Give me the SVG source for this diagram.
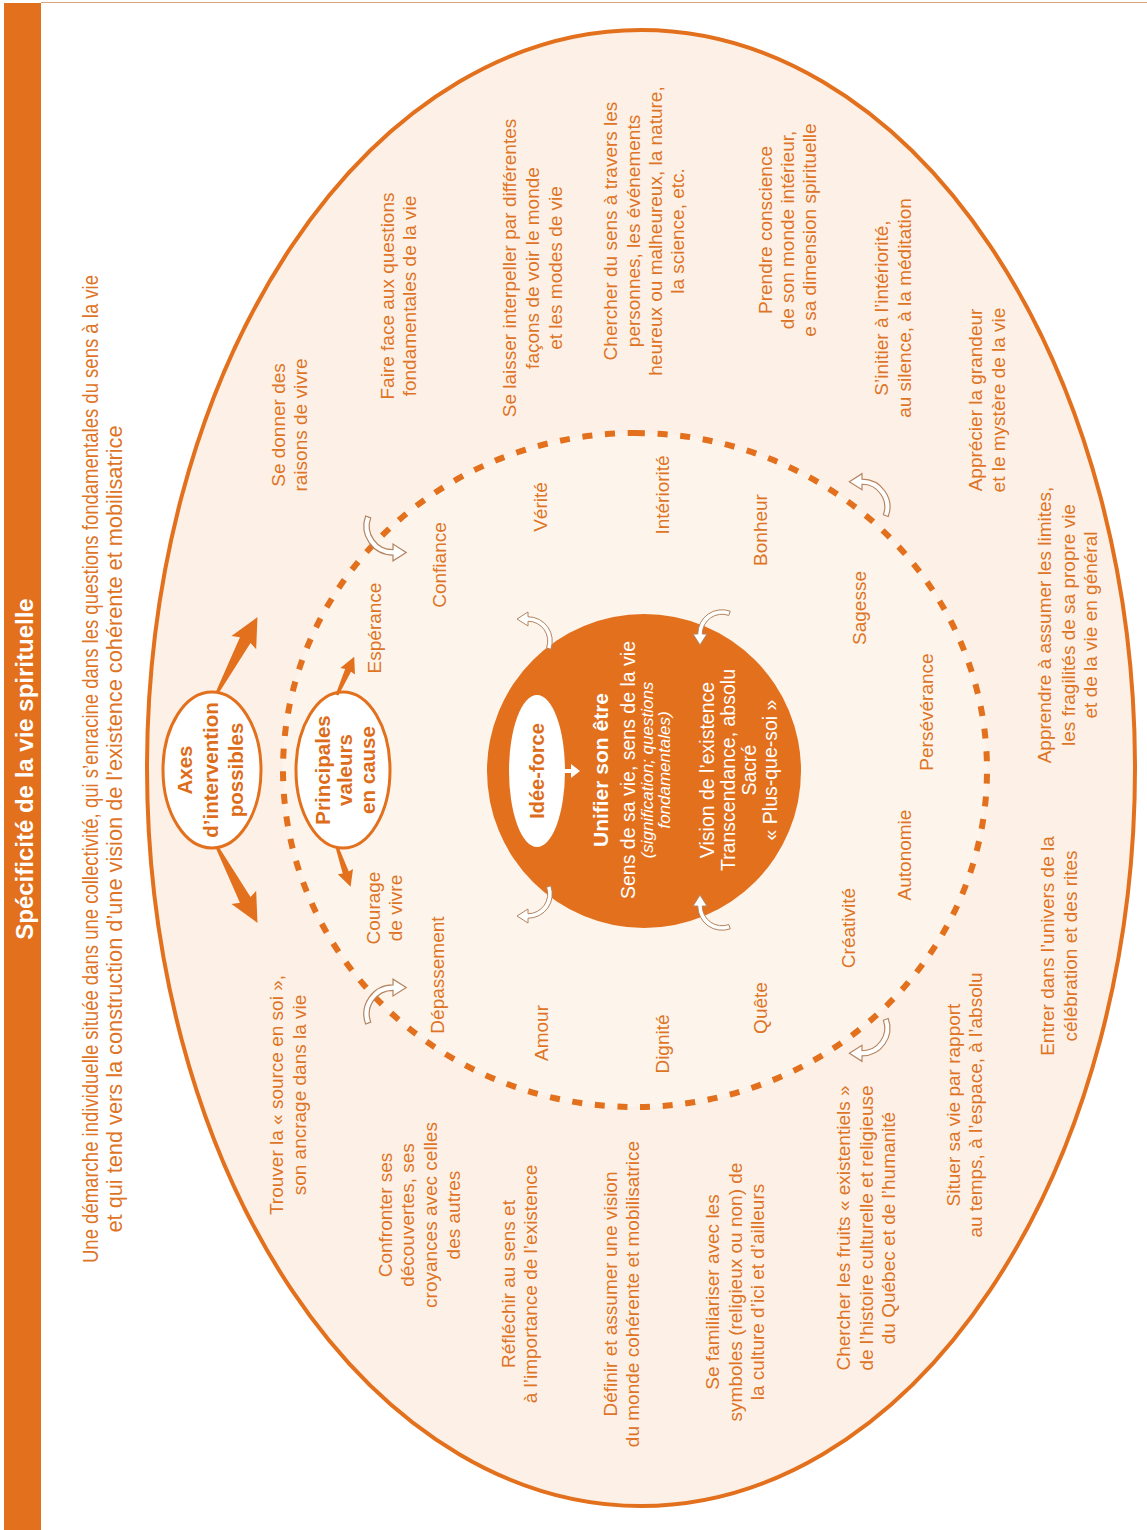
<svg xmlns="http://www.w3.org/2000/svg" width="1147" height="1530" viewBox="0 0 1147 1530">
<style>
  text { font-family: "Liberation Sans", Arial, Helvetica, sans-serif; text-anchor: middle; }
  .t { font-size: 19px; fill: #de7426; }
  .d { font-size: 22px; fill: #de7426; }
  .b { font-weight: bold; }
  .h { font-size: 20.5px; font-weight: bold; fill: #dd6d1a; }
  .w { fill: #ffffff; }
  .it { font-style: italic; font-size: 17px; fill: #ffffff; }
  .arr { fill: #e2701d; }
  .curl { fill: #ffffff; stroke: #b5835e; stroke-width: 1; }
</style>
<defs>
  <path id="curl" d="M 22.79 8.29 A 24.25 24.25 0 0 0 0 -24.25 L 0 -29 L -11 -22 L 0 -15 L 0 -19.75 A 19.75 19.75 0 0 1 18.56 6.75 Z"/>
  <path id="bigArrow" d="M0,-1.5 L60,-6 L57,-14 L86,0 L57,14 L60,6 L0,1.5 Z"/>
  <path id="smallArrow" d="M0,-1.5 L27,-3.2 L26,-8 L42,0 L26,8 L27,3.2 L0,1.5 Z"/>
</defs>
<rect x="0" y="0" width="1147" height="1530" fill="#ffffff"/>
<g id="page-frame">
  <rect x="4" y="3" width="37" height="1527" fill="#e2701d"/>
  <line x1="41" y1="2.5" x2="1147" y2="2.5" stroke="#dba47a" stroke-width="1"/>
</g>
<g id="landscape" transform="translate(0 1530) rotate(-90)">
  <g id="title">
    <text class="b w" x="761" y="33" font-size="24">Spécificité de la vie spirituelle</text>
  </g>
  <g id="description">
    <text class="d" x="761" y="98" textLength="988" lengthAdjust="spacingAndGlyphs">Une démarche individuelle située dans une collectivité, qui s’enracine dans les questions fondamentales du sens à la vie</text>
    <text class="d" x="701" y="122" textLength="807" lengthAdjust="spacingAndGlyphs">et qui tend vers la construction d’une vision de l’existence cohérente et mobilisatrice</text>
  </g>
  <g id="outer-ellipse">
    <ellipse cx="762" cy="641" rx="738" ry="494" fill="#fdf1e7" stroke="#e2701d" stroke-width="4"/>
  </g>
  <g id="values-ring">
    <ellipse cx="760" cy="635" rx="337" ry="352" fill="#fdf4eb" stroke="#e2701d" stroke-width="6" stroke-dasharray="10 12.7"/>
  </g>
  <g id="axes-intervention">
    <text class="t"><tspan x="1105" y="285">Se donner des</tspan><tspan x="1105" y="307">raisons de vivre</tspan></text>
    <text class="t"><tspan x="1234" y="394">Faire face aux questions</tspan><tspan x="1234" y="416">fondamentales de la vie</tspan></text>
    <text class="t"><tspan x="1262" y="516">Se laisser interpeller par différentes</tspan><tspan x="1262" y="539">façons de voir le monde</tspan><tspan x="1262" y="562">et les modes de vie</tspan></text>
    <text class="t"><tspan x="1299" y="617">Chercher du sens à travers les</tspan><tspan x="1299" y="640">personnes, les événements</tspan><tspan x="1299" y="662">heureux ou malheureux, la nature,</tspan><tspan x="1299" y="684">la science, etc.</tspan></text>
    <text class="t"><tspan x="1300" y="772">Prendre conscience</tspan><tspan x="1300" y="794">de son monde intérieur,</tspan><tspan x="1300" y="816">e sa dimension spirituelle</tspan></text>
    <text class="t"><tspan x="1222" y="888">S’initier à l’intériorité,</tspan><tspan x="1222" y="911">au silence, à la méditation</tspan></text>
    <text class="t"><tspan x="1130" y="982">Apprécier la grandeur</tspan><tspan x="1130" y="1005">et le mystère de la vie</tspan></text>
    <text class="t"><tspan x="905" y="1051">Apprendre à assumer les limites,</tspan><tspan x="905" y="1075">les fragilités de sa propre vie</tspan><tspan x="905" y="1097">et de la vie en général</tspan></text>
    <text class="t"><tspan x="584" y="1054">Entrer dans l’univers de la</tspan><tspan x="584" y="1077">célébration et des rites</tspan></text>
    <text class="t"><tspan x="425" y="960">Situer sa vie par rapport</tspan><tspan x="425" y="982">au temps, à l’espace, à l’absolu</tspan></text>
    <text class="t"><tspan x="302" y="850">Chercher les fruits « existentiels »</tspan><tspan x="302" y="873">de l’histoire culturelle et religieuse</tspan><tspan x="302" y="895">du Québec et de l’humanité</tspan></text>
    <text class="t"><tspan x="238" y="719">Se familiariser avec les</tspan><tspan x="238" y="742">symboles (religieux ou non) de</tspan><tspan x="238" y="764">la culture d’ici et d’ailleurs</tspan></text>
    <text class="t"><tspan x="236" y="617">Définir et assumer une vision</tspan><tspan x="236" y="639">du monde cohérente et mobilisatrice</tspan></text>
    <text class="t"><tspan x="246" y="515">Réfléchir au sens et</tspan><tspan x="246" y="537">à l’importance de l’existence</tspan></text>
    <text class="t"><tspan x="315" y="392">Confronter ses</tspan><tspan x="315" y="414">découvertes, ses</tspan><tspan x="315" y="437">croyances avec celles</tspan><tspan x="315" y="460">des autres</tspan></text>
    <text class="t"><tspan x="435" y="283">Trouver la « source en soi »,</tspan><tspan x="435" y="306">son ancrage dans la vie</tspan></text>
  </g>
  <g id="valeurs">
    <text class="t" x="902" y="381">Espérance</text>
    <text class="t"><tspan x="622" y="380">Courage</tspan><tspan x="622" y="402">de vivre</tspan></text>
    <text class="t" x="965" y="446">Confiance</text>
    <text class="t" x="1023" y="547">Vérité</text>
    <text class="t" x="1035" y="669">Intériorité</text>
    <text class="t" x="1000" y="767">Bonheur</text>
    <text class="t" x="922" y="866">Sagesse</text>
    <text class="t" x="818" y="933">Persévérance</text>
    <text class="t" x="675" y="911">Autonomie</text>
    <text class="t" x="602" y="855">Créativité</text>
    <text class="t" x="522" y="767">Quête</text>
    <text class="t" x="555" y="444">Dépassement</text>
    <text class="t" x="497" y="548">Amour</text>
    <text class="t" x="486" y="669">Dignité</text>
  </g>
  <g id="node-axes">
    <ellipse cx="760" cy="212" rx="78" ry="49" fill="#ffffff" stroke="#e2701d" stroke-width="3"/>
    <text class="h"><tspan x="760" y="192">Axes</tspan><tspan x="760" y="218">d’intervention</tspan><tspan x="760" y="243">possibles</tspan></text>
  </g>
  <g id="node-valeurs">
    <ellipse cx="760" cy="343" rx="78" ry="47" fill="#ffffff" stroke="#e2701d" stroke-width="3"/>
    <text class="h"><tspan x="760" y="330">Principales</tspan><tspan x="760" y="352">valeurs</tspan><tspan x="760" y="375">en cause</tspan></text>
  </g>
  <g id="node-unifier">
    <circle cx="759" cy="644" r="157" fill="#e2701d"/>
    <text class="w b" x="760" y="608" font-size="21">Unifier son être</text>
    <text class="w" x="760" y="635" font-size="19.5">Sens de sa vie, sens de la vie</text>
    <text class="it"><tspan x="760" y="653">(signification; questions</tspan><tspan x="760" y="670">fondamentales)</tspan></text>
    <text class="w" font-size="19.5"><tspan x="760" y="714">Vision de l’existence</tspan><tspan x="760" y="735">Transcendance, absolu</tspan><tspan x="760" y="756">Sacré</tspan><tspan x="760" y="777">« Plus-que-soi »</tspan></text>
  </g>
  <g id="node-idee-force">
    <ellipse cx="759" cy="537" rx="76" ry="28" fill="#ffffff"/>
    <text class="b" x="759" y="544" font-size="20" fill="#dd6d1a">Idée-force</text>
  </g>
</g>
<g id="connectors">
  <use href="#bigArrow" class="arr" transform="translate(217 693) rotate(-61.93)"/>
  <use href="#bigArrow" class="arr" transform="translate(217 847) rotate(61.93)"/>
  <use href="#smallArrow" class="arr" transform="translate(337 695) rotate(-65.8)"/>
  <use href="#smallArrow" class="arr" transform="translate(337 847) rotate(71.1)"/>
  <path d="M565,769 L571,769 L571,764 L580,771 L571,778 L571,773 L565,773 Z" fill="#ffffff"/>
  <use href="#curl" class="curl" transform="translate(528 641)"/>
  <use href="#curl" class="curl" transform="translate(528 894) scale(1 -1)"/>
  <use href="#curl" class="curl" transform="translate(722 634) rotate(-90)"/>
  <use href="#curl" class="curl" transform="translate(722 906) scale(1 -1) rotate(-90)"/>
  <use href="#curl" class="curl" transform="translate(393 526) rotate(180) scale(1.2)"/>
  <use href="#curl" class="curl" transform="translate(393 1014) scale(-1.2 1.2)"/>
  <use href="#curl" class="curl" transform="translate(862 507) scale(1.15)"/>
  <use href="#curl" class="curl" transform="translate(862 1028) scale(1.15 -1.15)"/>
</g>
</svg>
